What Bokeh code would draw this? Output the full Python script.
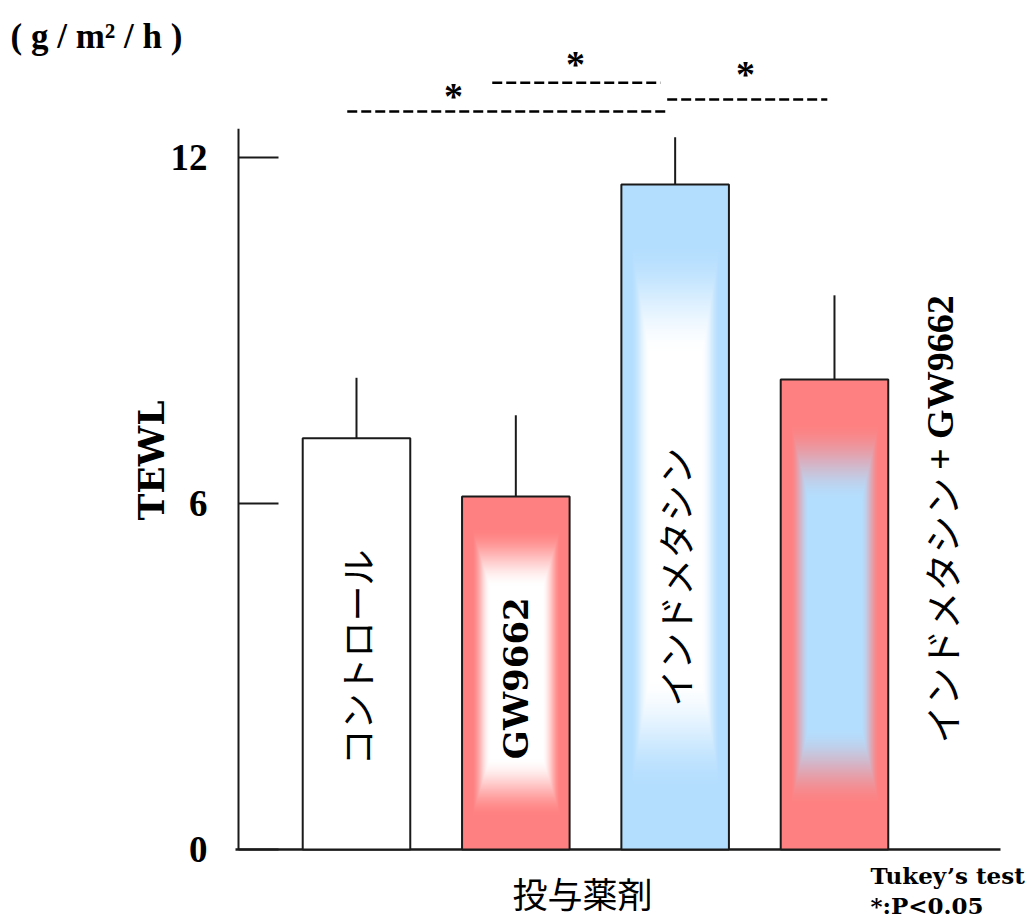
import numpy as np
from bokeh.plotting import figure
from bokeh.models import Range1d, FixedTicker, LinearAxis
from bokeh.core.properties import value
from bokeh.embed import file_html
from bokeh.resources import INLINE

# ---- data ----
categories = ["コントロール", "GW9662", "インドメタシン", "インドメタシン+ GW9662"]
tewl_mean = [7.13, 6.12, 11.53, 8.15]
tewl_err = [1.05, 1.41, 0.82, 1.46]
y_ticks = [0, 6, 12]
sig_pairs = [(0, 2), (1, 2), (2, 3)]
sig_mark = "*"
unit_text = "( g / m² / h )"
x_title = "投与薬剤"
y_title = "TEWL"
note_lines = ["Tukey’s test", "*:P<0.05"]

# ---- styles / layout ----
SERIF = "Liberation Serif"
SERIF2 = "DejaVu Serif"
CJK = "Noto Sans CJK JP"
INK = "#1a1a1a"
RED = np.array([255, 128, 128])
BLUE = np.array([180, 222, 254])
WHITE = np.array([255, 255, 255])
BAR_W = 0.675
PX_X = 159.33          # pixels per x unit
PX_Y = 57.667          # pixels per y unit
W, H = 1032, 920
X0 = -2.2343
X1 = X0 + W / PX_X
Y1 = 14.7225
Y0 = Y1 - H / PX_Y
AXIS_X = X0 + 238 / PX_X
AXIS_TOP = 12.5
BASE_X0 = X0 + 235 / PX_X
BASE_X1 = X0 + 1000 / PX_X

xs = list(range(len(categories)))

p = figure(width=W, height=H, output_backend="svg", toolbar_location=None,
           x_range=Range1d(X0, X1), y_range=Range1d(Y0, Y1),
           x_axis_location=None, y_axis_location=None,
           min_border=0)
p.outline_line_color = None
p.xgrid.grid_line_color = None
p.ygrid.grid_line_color = None
p.background_fill_color = "white"
p.border_fill_color = "white"

# y axis (fixed at the left edge of the plotting area)
yax = LinearAxis(fixed_location=AXIS_X, ticker=FixedTicker(ticks=y_ticks))
yax.axis_line_color = None
yax.major_tick_in = 40
yax.major_tick_out = 0
yax.major_tick_line_width = 2
yax.major_tick_line_color = INK
yax.minor_tick_line_color = None
yax.major_label_standoff = 31
yax.major_label_text_font = SERIF
yax.major_label_text_font_style = "bold"
yax.major_label_text_font_size = "37px"
yax.major_label_text_color = "black"
yax.axis_label = y_title
yax.axis_label_text_font = SERIF2
yax.axis_label_text_font_style = "bold"
yax.axis_label_text_font_size = "36px"
yax.axis_label_text_color = "black"
yax.axis_label_standoff = -4
p.add_layout(yax, "left")

# axis lines
p.segment(x0=[AXIS_X], y0=[0], x1=[AXIS_X], y1=[AXIS_TOP], line_color=INK, line_width=2)
p.segment(x0=[BASE_X0], y0=[0], x1=[BASE_X1], y1=[0], line_color=INK, line_width=2.5)


def grad_image(val, edge, center, a=0.09, b=0.26):
    h = max(2, int(round(val * PX_Y)))
    w = int(round(BAR_W * PX_X))
    u = (np.arange(w) + 0.5) / w
    v = (np.arange(h) + 0.5) / h
    fh = np.clip((np.minimum(u, 1 - u) - a) / (b - a), 0, 1)
    fv = np.clip((np.minimum(v, 1 - v) - a) / (b - a), 0, 1)
    t = np.minimum(fh[None, :], fv[:, None])
    t = t * t * (3 - 2 * t)
    rgb = edge[None, None, :] * (1 - t[..., None]) + center[None, None, :] * t[..., None]
    rgb = np.clip(np.round(rgb), 0, 255).astype(np.uint32)
    img = (rgb[..., 0] | (rgb[..., 1] << 8) | (rgb[..., 2] << 16) | (np.uint32(255) << 24)).astype(np.uint32)
    return img


grads = {1: (RED, WHITE), 2: (BLUE, WHITE), 3: (RED, BLUE)}

# error bars (upper only)
p.segment(x0=xs, y0=tewl_mean, x1=xs,
          y1=[m + e for m, e in zip(tewl_mean, tewl_err)],
          line_color=INK, line_width=2)

# bars
p.vbar(x=[xs[0]], top=[tewl_mean[0]], width=BAR_W, bottom=0,
       fill_color="white", line_color=None)
for i, (edge, center) in grads.items():
    img = grad_image(tewl_mean[i], edge, center)
    p.image_rgba(image=[img], x=xs[i] - BAR_W / 2, y=0, dw=BAR_W, dh=tewl_mean[i])
p.vbar(x=xs, top=tewl_mean, width=BAR_W, bottom=0, fill_color=None,
       line_color=INK, line_width=2)

# labels inside / beside bars
p.text(x=[xs[0]], y=[3.33], text=[categories[0]], angle=np.pi / 2,
       text_align="center", text_baseline="middle", text_font=value(CJK),
       text_font_size="36px", text_color="black")
p.text(x=[xs[1]], y=[2.97], text=[categories[1]], angle=np.pi / 2,
       text_align="center", text_baseline="middle", text_font=value(SERIF2),
       text_font_style="bold", text_font_size="34px", text_color="black")
p.text(x=[xs[2]], y=[4.72], text=[categories[2]], angle=np.pi / 2,
       text_align="center", text_baseline="middle", text_font=value(CJK),
       text_font_size="37px", text_color="black")
jp_part, en_part = categories[3].split("+")
p.text(x=[xs[3] + 0.665], y=[6.45], text=[jp_part], angle=np.pi / 2,
       text_align="right", text_baseline="middle", text_font=value(CJK),
       text_font_size="38px", text_color="black")
p.text(x=[xs[3] + 0.665], y=[6.58], text=["+" + en_part], angle=np.pi / 2,
       text_align="left", text_baseline="middle", text_font=value(SERIF),
       text_font_style="bold", text_font_size="38px", text_color="black")

# significance brackets
sig_y = [12.798, 13.295, 13.006]
sig_dx0 = [-0.058, -0.148, -0.050]
sig_dx1 = [-0.042, -0.092, -0.045]
star_x = [0.609, 1.375, 2.442]
star_y = [13.066, 13.613, 13.445]
p.segment(x0=[a + d for (a, _), d in zip(sig_pairs, sig_dx0)], y0=sig_y,
          x1=[b + d for (_, b), d in zip(sig_pairs, sig_dx1)], y1=sig_y,
          line_color="black", line_width=2.5, line_dash="10 4")
p.text(x=star_x, y=star_y, text=[sig_mark] * len(star_x), text_align="center",
       text_baseline="alphabetic", text_font=value(SERIF), text_font_style="bold",
       text_font_size="38px", text_color="black")

# other texts
p.text(x=[-2.1715], y=[14.10], text=[unit_text], text_font=value(SERIF),
       text_font_style="bold", text_font_size="35px", text_color="black",
       text_baseline="alphabetic", text_align="left")
p.text(x=[1.4185], y=[-0.7457], text=[x_title], text_font=value(CJK),
       text_font_size="35px", text_color="black",
       text_baseline="middle", text_align="center")
p.text(x=[3.226, 3.226], y=[-0.451, -0.971], text=note_lines, text_font=value(SERIF2),
       text_font_style="bold", text_font_size="23px", text_color="black",
       text_baseline="alphabetic", text_align="left")

open("out.html", "w").write(file_html(p, INLINE))
